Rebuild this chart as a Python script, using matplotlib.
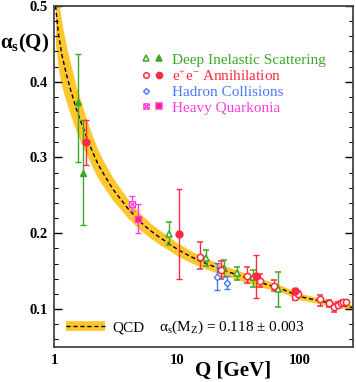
import matplotlib
matplotlib.use('Agg')
import matplotlib.pyplot as plt
from matplotlib.lines import Line2D
from matplotlib.legend_handler import HandlerTuple
from matplotlib.path import Path

plt.rcParams['font.family'] = 'Liberation Serif'
plt.rcParams['mathtext.fontset'] = 'custom'
plt.rcParams['mathtext.rm'] = 'Liberation Serif'
plt.rcParams['mathtext.it'] = 'Liberation Serif:italic'
plt.rcParams['mathtext.bf'] = 'Liberation Serif:bold'

# QCD curve, with half width of the band
qcd_q = [1.02, 1.08, 1.15, 1.25, 1.35, 1.5, 1.65, 1.8, 2.0, 2.25, 2.5, 3.0, 3.5, 4.0,
         5.0, 6.0, 7.0, 8.5, 10, 12, 15, 20, 25, 30, 40, 50, 70, 100, 130, 170, 220, 270]
qcd_a = [0.500, 0.462, 0.435, 0.410, 0.390, 0.365, 0.346, 0.330, 0.311, 0.292, 0.279,
         0.258, 0.244, 0.232, 0.215, 0.204, 0.196, 0.187, 0.179, 0.172, 0.164, 0.156,
         0.150, 0.146, 0.139, 0.134, 0.127, 0.1165, 0.1125, 0.1085, 0.105, 0.102]
qcd_w = [0.052, 0.047, 0.042, 0.037, 0.034, 0.030, 0.027, 0.024, 0.021, 0.019, 0.017,
         0.015, 0.0135, 0.0125, 0.011, 0.010, 0.0095, 0.009, 0.0085, 0.008, 0.0075, 0.007,
         0.0065, 0.0062, 0.0058, 0.0055, 0.0045, 0.0042, 0.004, 0.0038, 0.0036, 0.0035]

# Deep inelastic scattering
dis_f_q = [1.55, 1.71]
dis_f_a = [0.373, 0.280]
dis_f_lo = [0.079, 0.069]
dis_f_hi = [0.063, 0.070]

dis_o_q = [8.6, 17.2, 24.0, 30.5, 41.4, 66.9]
dis_o_a = [0.199, 0.167, 0.154, 0.148, 0.142, 0.126]
dis_o_lo = [0.014, 0.010, 0.011, 0.009, 0.013, 0.023]
dis_o_hi = [0.0155, 0.011, 0.011, 0.008, 0.009, 0.023]

# e+e- annihilation
ee_f_q = [1.8, 10.4, 44.2, 91.2]
ee_f_a = [0.321, 0.199, 0.1435, 0.1235]
ee_f_lo = [0.031, 0.059, 0.0295, 0.003]
ee_f_hi = [0.029, 0.059, 0.0275, 0.004]

ee_o_q = [15.4, 22.8, 37.3, 47.3, 61.6, 91.2, 96, 145, 172, 189, 204, 215, 225, 236]
ee_o_a = [0.169, 0.151, 0.1435, 0.137, 0.130, 0.116, 0.120, 0.113, 0.1076, 0.1033,
          0.1054, 0.1076, 0.109, 0.109]
ee_o_lo = [0.016, 0.011, 0.0095, 0.008, 0.006, 0.004, 0.004, 0.009, 0.005, 0.007,
           0.004, 0.003, 0.003, 0.003]
ee_o_hi = [0.019, 0.013, 0.0125, 0.009, 0.008, 0.004, 0.004, 0.006, 0.004, 0.004,
           0.004, 0.003, 0.003, 0.003]

# hadron collisions
had_q = [21.2, 25.6]
had_a = [0.143, 0.135]
had_err = [0.018, 0.009]

# heavy quarkonia
hq_o_q = [4.3]
hq_o_a = [0.239]
hq_o_err = [0.010]
hq_f_q = [4.76]
hq_f_a = [0.219]
hq_f_lo = [0.019]
hq_f_hi = [0.020]

green = '#3aa826'
red = '#ff2a40'
blue = '#4a78ff'
magenta = '#ff3ee0'
pink = '#ff1f6e'
band = '#ffc62e'

boxx = Path([(-1, -1), (1, -1), (1, 1), (-1, 1), (-1, -1), (-1, -1), (1, 1), (-1, 1), (1, -1)],
            [Path.MOVETO, Path.LINETO, Path.LINETO, Path.LINETO, Path.CLOSEPOLY,
             Path.MOVETO, Path.LINETO, Path.MOVETO, Path.LINETO])

fig = plt.figure(figsize=(3.56, 3.82), dpi=100)
ax = fig.add_axes([0.153, 0.0916, 0.838, 0.893])

lower = [a - w for a, w in zip(qcd_a, qcd_w)]
upper = [a + w for a, w in zip(qcd_a, qcd_w)]
ax.fill_between(qcd_q, lower, upper, color=band, lw=0, zorder=1)
ax.plot(qcd_q, qcd_a, color='black', lw=1.0, ls=(0, (3, 2)), zorder=2)

eb = dict(capsize=2.5, elinewidth=1.0, capthick=1.0, ls='none', zorder=3)
ms = 4.5
ax.errorbar(dis_f_q, dis_f_a, yerr=[dis_f_lo, dis_f_hi], fmt='^', color=green, ms=ms, **eb)
ax.errorbar(dis_o_q, dis_o_a, yerr=[dis_o_lo, dis_o_hi], fmt='^', color=green, mfc='white',
            mec=green, mew=1.1, ms=ms, **eb)
ax.errorbar(ee_o_q, ee_o_a, yerr=[ee_o_lo, ee_o_hi], fmt='o', color=red, mfc='white',
            mec=red, mew=1.1, ms=ms, **eb)
ax.errorbar(ee_f_q, ee_f_a, yerr=[ee_f_lo, ee_f_hi], fmt='o', color=red, ms=ms + 0.5, **eb)
ax.errorbar(had_q, had_a, yerr=had_err, fmt='D', color=blue, mfc='white', mec=blue,
            mew=1.0, ms=3.3, **eb)
ax.errorbar(hq_o_q, hq_o_a, yerr=hq_o_err, fmt='none', ecolor=magenta, **eb)
ax.plot(hq_o_q, hq_o_a, ls='none', marker=boxx, mfc='white', mec=magenta, mew=0.9, ms=4.3, zorder=4)
ax.errorbar(hq_f_q, hq_f_a, yerr=[hq_f_lo, hq_f_hi], fmt='s', color=magenta, mfc=pink,
            mec=magenta, ms=4.3, **eb)

ax.set_xscale('log')
ax.set_xlim(1, 270)
ax.set_ylim(0.05, 0.5)
ax.set_xticks([1, 10, 100])
ax.set_xticklabels(['1', '10', '100'])
ax.set_yticks([0.1, 0.2, 0.3, 0.4, 0.5])
ax.set_yticklabels(['0.1', '0.2', '0.3', '0.4', '0.5'])
ax.set_yticks([0.06 + 0.02 * i for i in range(23)], minor=True)
ax.tick_params(axis='x', which='both', length=0, pad=5, labelsize=10.5)
ax.tick_params(axis='y', which='both', direction='in', left=True, right=True, labelsize=10.5, pad=5)
ax.tick_params(axis='y', which='major', length=6, width=1.0)
ax.tick_params(axis='y', which='minor', length=3, width=0.8)
for lab in ax.get_xticklabels() + ax.get_yticklabels():
    lab.set_fontweight('bold')
for s in ax.spines.values():
    s.set_color('#444444')
    s.set_linewidth(1.3)

ax.set_xlabel('Q [GeV]', fontsize=15, fontweight='bold')
ax.xaxis.set_label_coords(0.6, -0.04)
ax.text(-0.1, 0.89, r'$\mathbf{\alpha_s(Q)}$', transform=ax.transAxes, fontsize=15,
        ha='center', va='center')

# legend proxies (markers only)
def mk(marker, c, fill, size=ms, mew=1.1):
    return Line2D([], [], ls='none', marker=marker, mec=c, mfc=fill, ms=size, mew=mew)

blank = Line2D([], [], ls='none')
handles = [(mk('^', green, 'white', 4.0), mk('^', green, green, 4.0)),
           (mk('o', red, 'white', 4.0), mk('o', red, red, 4.4)),
           (mk('D', blue, 'white', 3.0, 1.0), blank),
           (mk(boxx, magenta, 'white', 3.8, 0.9), mk('s', magenta, pink, 4.0))]
labels = ['Deep Inelastic Scattering', 'e$^{+}$e$^{-}$ Annihilation',
          'Hadron Collisions', 'Heavy Quarkonia']
leg = ax.legend(handles, labels, handler_map={tuple: HandlerTuple(ndivide=None, pad=0.25)},
                loc='upper left', bbox_to_anchor=(0.29, 0.862), frameon=False, fontsize=11,
                handlelength=1.5, handletextpad=0.5, labelspacing=0.12, borderpad=0,
                borderaxespad=0, labelcolor=[green, red, blue, magenta])
ax.add_artist(leg)

qcd_h = (Line2D([], [], color=band, lw=7, solid_capstyle='butt'),
         Line2D([], [], color='black', lw=1.0, ls=(0, (3, 2))))
ax.legend([qcd_h], ['QCD'], handler_map={tuple: HandlerTuple(ndivide=1)},
          loc='center left', bbox_to_anchor=(0.04, 0.058), frameon=False, fontsize=11,
          handlelength=2.5, handletextpad=0.5, borderpad=0, borderaxespad=0)
ax.text(0.35, 0.058, r'$\mathrm{\alpha_s(M_Z)}$ = 0.118 ± 0.003', transform=ax.transAxes,
        fontsize=11, ha='left', va='center')

fig.savefig('out.png', dpi=100)
